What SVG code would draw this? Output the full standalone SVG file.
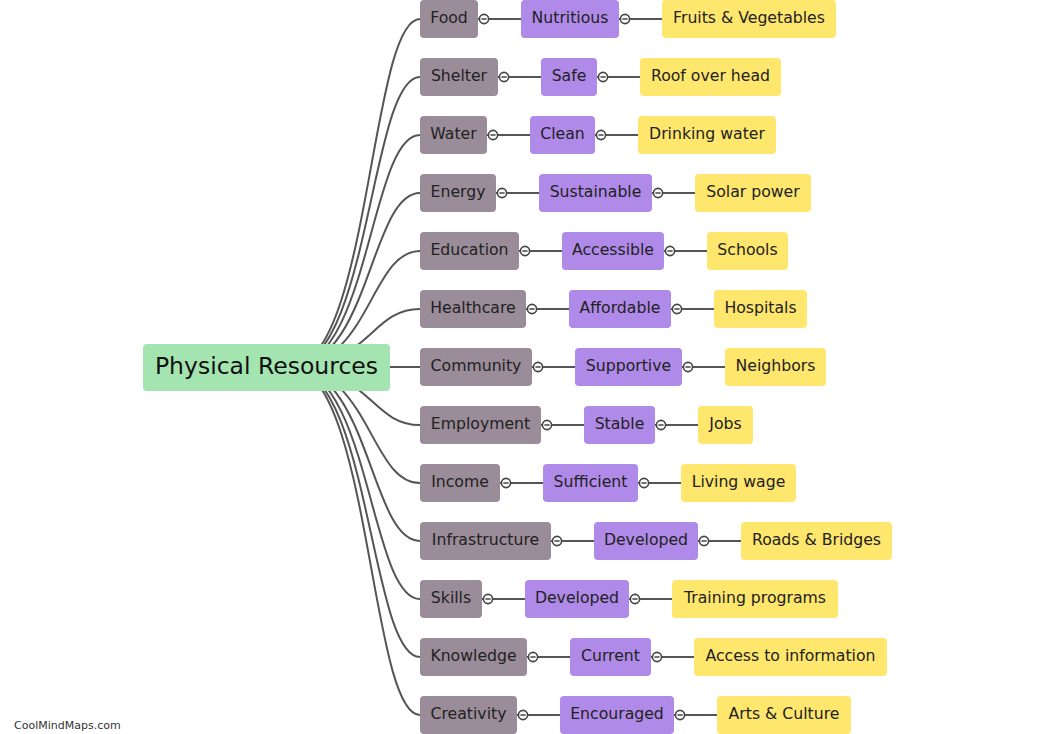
<svg xmlns="http://www.w3.org/2000/svg" width="1047" height="734" viewBox="0 0 1047 734">
<style>
.l1{fill:#9a8c98}
.l2{fill:#b08ae8}
.l3{fill:#ffe66d}
.root{fill:#a3e4b0}
text{font-family:"DejaVu Sans",Verdana,sans-serif;font-size:15.7px;fill:#222;text-anchor:middle;dominant-baseline:central;transform:translateY(-1.5px)}
.rt{font-size:23.5px;fill:#111}
.wm{font-size:11px;fill:#333;text-anchor:start;dominant-baseline:auto;transform:none}
.c path,.c line{stroke:#555;stroke-width:2;fill:none}
.tog circle{fill:#fff;stroke:#444;stroke-width:1.6}
.tog line{stroke:#444;stroke-width:1.5}
</style>
<defs>
<g id="tg" class="tog"><circle r="4.6"/><line x1="-2.6" y1="0" x2="2.6" y2="0"/></g>
</defs>
<g id="connectors" class="c">
<path d="M290 367C370 367 370 19 420 19"/>
<path d="M290 367C370 367 370 77 420 77"/>
<path d="M290 367C370 367 370 135 420 135"/>
<path d="M290 367C370 367 370 193 420 193"/>
<path d="M290 367C370 367 370 251 420 251"/>
<path d="M290 367C370 367 370 309 420 309"/>
<path d="M290 367L420 367"/>
<path d="M290 367C370 367 370 425 420 425"/>
<path d="M290 367C370 367 370 483 420 483"/>
<path d="M290 367C370 367 370 541 420 541"/>
<path d="M290 367C370 367 370 599 420 599"/>
<path d="M290 367C370 367 370 657 420 657"/>
<path d="M290 367C370 367 370 715 420 715"/>
<line x1="478" y1="19" x2="521" y2="19"/><line x1="619" y1="19" x2="662" y2="19"/>
<line x1="498" y1="77" x2="541" y2="77"/><line x1="597" y1="77" x2="640" y2="77"/>
<line x1="487" y1="135" x2="530" y2="135"/><line x1="595" y1="135" x2="638" y2="135"/>
<line x1="496" y1="193" x2="539" y2="193"/><line x1="652" y1="193" x2="695" y2="193"/>
<line x1="519" y1="251" x2="562" y2="251"/><line x1="664" y1="251" x2="707" y2="251"/>
<line x1="526" y1="309" x2="569" y2="309"/><line x1="671" y1="309" x2="714" y2="309"/>
<line x1="532" y1="367" x2="575" y2="367"/><line x1="682" y1="367" x2="725" y2="367"/>
<line x1="541" y1="425" x2="584" y2="425"/><line x1="655" y1="425" x2="698" y2="425"/>
<line x1="500" y1="483" x2="543" y2="483"/><line x1="638" y1="483" x2="681" y2="483"/>
<line x1="551" y1="541" x2="594" y2="541"/><line x1="698" y1="541" x2="741" y2="541"/>
<line x1="482" y1="599" x2="525" y2="599"/><line x1="629" y1="599" x2="672" y2="599"/>
<line x1="527" y1="657" x2="570" y2="657"/><line x1="651" y1="657" x2="694" y2="657"/>
<line x1="517" y1="715" x2="560" y2="715"/><line x1="674" y1="715" x2="717" y2="715"/>
</g>
<g id="root"><rect class="root" x="143" y="344" width="247" height="47" rx="4"/><text class="rt" x="266.5" y="367">Physical Resources</text></g>

<g id="food"><rect class="l1" x="420" y="0" width="58" height="38" rx="4"/><text x="449" y="19">Food</text></g>
<g id="nutritious"><rect class="l2" x="521" y="0" width="98" height="38" rx="4"/><text x="570" y="19">Nutritious</text></g>
<g id="fruits"><rect class="l3" x="662" y="0" width="174" height="38" rx="4"/><text x="749" y="19">Fruits &amp; Vegetables</text></g>

<g id="shelter"><rect class="l1" x="420" y="58" width="78" height="38" rx="4"/><text x="459" y="77">Shelter</text></g>
<g id="safe"><rect class="l2" x="541" y="58" width="56" height="38" rx="4"/><text x="569" y="77">Safe</text></g>
<g id="roof"><rect class="l3" x="640" y="58" width="141" height="38" rx="4"/><text x="710.5" y="77">Roof over head</text></g>

<g id="water"><rect class="l1" x="420" y="116" width="67" height="38" rx="4"/><text x="453.5" y="135">Water</text></g>
<g id="clean"><rect class="l2" x="530" y="116" width="65" height="38" rx="4"/><text x="562.5" y="135">Clean</text></g>
<g id="drinking"><rect class="l3" x="638" y="116" width="138" height="38" rx="4"/><text x="707" y="135">Drinking water</text></g>

<g id="energy"><rect class="l1" x="420" y="174" width="76" height="38" rx="4"/><text x="458" y="193">Energy</text></g>
<g id="sustainable"><rect class="l2" x="539" y="174" width="113" height="38" rx="4"/><text x="595.5" y="193">Sustainable</text></g>
<g id="solar"><rect class="l3" x="695" y="174" width="116" height="38" rx="4"/><text x="753" y="193">Solar power</text></g>

<g id="education"><rect class="l1" x="420" y="232" width="99" height="38" rx="4"/><text x="469.5" y="251">Education</text></g>
<g id="accessible"><rect class="l2" x="562" y="232" width="102" height="38" rx="4"/><text x="613" y="251">Accessible</text></g>
<g id="schools"><rect class="l3" x="707" y="232" width="81" height="38" rx="4"/><text x="747.5" y="251">Schools</text></g>

<g id="healthcare"><rect class="l1" x="420" y="290" width="106" height="38" rx="4"/><text x="473" y="309">Healthcare</text></g>
<g id="affordable"><rect class="l2" x="569" y="290" width="102" height="38" rx="4"/><text x="620" y="309">Affordable</text></g>
<g id="hospitals"><rect class="l3" x="714" y="290" width="93" height="38" rx="4"/><text x="760.5" y="309">Hospitals</text></g>

<g id="community"><rect class="l1" x="420" y="348" width="112" height="38" rx="4"/><text x="476" y="367">Community</text></g>
<g id="supportive"><rect class="l2" x="575" y="348" width="107" height="38" rx="4"/><text x="628.5" y="367">Supportive</text></g>
<g id="neighbors"><rect class="l3" x="725" y="348" width="101" height="38" rx="4"/><text x="775.5" y="367">Neighbors</text></g>

<g id="employment"><rect class="l1" x="420" y="406" width="121" height="38" rx="4"/><text x="480.5" y="425">Employment</text></g>
<g id="stable"><rect class="l2" x="584" y="406" width="71" height="38" rx="4"/><text x="619.5" y="425">Stable</text></g>
<g id="jobs"><rect class="l3" x="698" y="406" width="55" height="38" rx="4"/><text x="725.5" y="425">Jobs</text></g>

<g id="income"><rect class="l1" x="420" y="464" width="80" height="38" rx="4"/><text x="460" y="483">Income</text></g>
<g id="sufficient"><rect class="l2" x="543" y="464" width="95" height="38" rx="4"/><text x="590.5" y="483">Sufficient</text></g>
<g id="livingwage"><rect class="l3" x="681" y="464" width="115" height="38" rx="4"/><text x="738.5" y="483">Living wage</text></g>

<g id="infrastructure"><rect class="l1" x="420" y="522" width="131" height="38" rx="4"/><text x="485.5" y="541">Infrastructure</text></g>
<g id="developed1"><rect class="l2" x="594" y="522" width="104" height="38" rx="4"/><text x="646" y="541">Developed</text></g>
<g id="roads"><rect class="l3" x="741" y="522" width="151" height="38" rx="4"/><text x="816.5" y="541">Roads &amp; Bridges</text></g>

<g id="skills"><rect class="l1" x="420" y="580" width="62" height="38" rx="4"/><text x="451" y="599">Skills</text></g>
<g id="developed2"><rect class="l2" x="525" y="580" width="104" height="38" rx="4"/><text x="577" y="599">Developed</text></g>
<g id="training"><rect class="l3" x="672" y="580" width="166" height="38" rx="4"/><text x="755" y="599">Training programs</text></g>

<g id="knowledge"><rect class="l1" x="420" y="638" width="107" height="38" rx="4"/><text x="473.5" y="657">Knowledge</text></g>
<g id="current"><rect class="l2" x="570" y="638" width="81" height="38" rx="4"/><text x="610.5" y="657">Current</text></g>
<g id="access"><rect class="l3" x="694" y="638" width="193" height="38" rx="4"/><text x="790.5" y="657">Access to information</text></g>

<g id="creativity"><rect class="l1" x="420" y="696" width="97" height="38" rx="4"/><text x="468.5" y="715">Creativity</text></g>
<g id="encouraged"><rect class="l2" x="560" y="696" width="114" height="38" rx="4"/><text x="617" y="715">Encouraged</text></g>
<g id="arts"><rect class="l3" x="717" y="696" width="134" height="38" rx="4"/><text x="784" y="715">Arts &amp; Culture</text></g>

<g id="toggles">
<use href="#tg" x="484" y="19"/><use href="#tg" x="625" y="19"/>
<use href="#tg" x="504" y="77"/><use href="#tg" x="603" y="77"/>
<use href="#tg" x="493" y="135"/><use href="#tg" x="601" y="135"/>
<use href="#tg" x="502" y="193"/><use href="#tg" x="658" y="193"/>
<use href="#tg" x="525" y="251"/><use href="#tg" x="670" y="251"/>
<use href="#tg" x="532" y="309"/><use href="#tg" x="677" y="309"/>
<use href="#tg" x="538" y="367"/><use href="#tg" x="688" y="367"/>
<use href="#tg" x="547" y="425"/><use href="#tg" x="661" y="425"/>
<use href="#tg" x="506" y="483"/><use href="#tg" x="644" y="483"/>
<use href="#tg" x="557" y="541"/><use href="#tg" x="704" y="541"/>
<use href="#tg" x="488" y="599"/><use href="#tg" x="635" y="599"/>
<use href="#tg" x="533" y="657"/><use href="#tg" x="657" y="657"/>
<use href="#tg" x="523" y="715"/><use href="#tg" x="680" y="715"/>
</g>
<text class="wm" x="14" y="729">CoolMindMaps.com</text>
</svg>
